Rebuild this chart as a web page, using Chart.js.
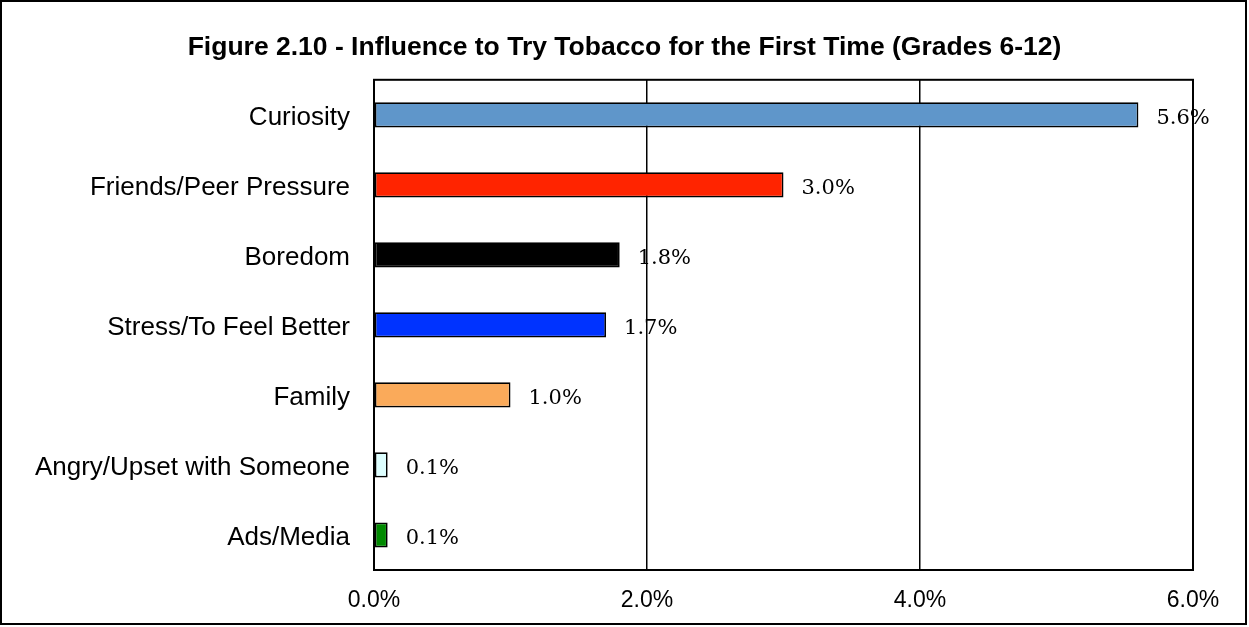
<!DOCTYPE html>
<html>
<head>
<meta charset="utf-8">
<script src="https://cdn.jsdelivr.net/npm/chart.js@4/dist/chart.umd.min.js"></script>
<style>
  html, body { margin: 0; padding: 0; background: #fff; }
  #wrap { width: 1249px; height: 627px; }
</style>
</head>
<body>
<div id="wrap"><canvas id="influence"></canvas></div>
<script>
// influences on first tobacco use, grades 6-12 (percent of students)
const categories = ["Curiosity", "Friends/Peer Pressure", "Boredom", "Stress/To Feel Better",
                    "Family", "Angry/Upset with Someone", "Ads/Media"];
const percents = [5.6, 3.0, 1.8, 1.7, 1.0, 0.1, 0.1];
const barColors = ["#5F96CA", "#FF2400", "#000000", "#0033FF", "#FAAA5A", "#DDFFFF", "#008A00"];
const xTicks = [0, 2, 4, 6];

// white page plus the black frame round the whole figure
const framePlugin = {
    id: "frame",
    afterLayout(chart) {
        // centre the title on the full page, not just the padded area
        if (chart.titleBlock) {
            chart.titleBlock.left = 0;
            chart.titleBlock.right = chart.width;
        }
    },
    beforeDraw(chart) {
        const ctx = chart.ctx;
        ctx.save();
        ctx.fillStyle = "#ffffff";
        ctx.fillRect(0, 0, chart.width, chart.height);
        ctx.restore();
    },
    afterDraw(chart) {
        const ctx = chart.ctx;
        ctx.save();
        ctx.strokeStyle = "#000000";
        ctx.lineWidth = 2;
        ctx.strokeRect(1, 1, chart.width - 4, chart.height - 4);
        // box round the plot area
        const a = chart.chartArea;
        ctx.strokeRect(a.left, a.top, a.right - a.left, a.bottom - a.top);
        ctx.restore();
    }
};

// value text just past the end of each bar
const valueLabels = {
    id: "valueLabels",
    afterDatasetsDraw(chart) {
        const ctx = chart.ctx;
        const meta = chart.getDatasetMeta(0);
        ctx.save();
        ctx.font = "21px 'DejaVu Serif', serif";
        ctx.fillStyle = "#000000";
        ctx.textAlign = "left";
        ctx.textBaseline = "middle";
        meta.data.forEach((bar, i) => {
            ctx.fillText(percents[i].toFixed(1) + "%", bar.x + 18, bar.y + 4);
        });
        ctx.restore();
    }
};

const config = {
    type: "bar",
    data: {
        labels: categories,
        datasets: [{
            data: percents,
            backgroundColor: barColors,
            borderColor: "#000000",
            borderWidth: 1.75,
            borderSkipped: false,
            categoryPercentage: 0.5,
            barPercentage: 0.72
        }]
    },
    options: {
        indexAxis: "y",
        responsive: true,
        maintainAspectRatio: false,
        animation: false,
        devicePixelRatio: 1,
        layout: { padding: { left: 0, right: 56, top: 0, bottom: 0 } },
        plugins: {
            legend: { display: false },
            tooltip: { enabled: false },
            title: {
                display: true,
                text: "Figure 2.10 - Influence to Try Tobacco for the First Time (Grades 6-12)",
                color: "#000000",
                font: { family: "'Liberation Sans', Arial, sans-serif", size: 26.5, weight: "bold", lineHeight: 1.2 },
                padding: { top: 32, bottom: 16 }
            }
        },
        scales: {
            x: {
                min: 0,
                max: 6,
                afterBuildTicks(scale) {
                    scale.ticks = xTicks.map(v => ({ value: v }));
                },
                afterFit(scale) { scale.height = 57; },
                grid: { color: "#000000", lineWidth: 1.5, drawTicks: false },
                border: { display: true, color: "#000000", width: 2 },
                ticks: {
                    padding: 17,
                    color: "#000000",
                    font: { family: "'Liberation Sans', Arial, sans-serif", size: 23 },
                    callback: v => v.toFixed(1) + "%"
                }
            },
            y: {
                afterFit(scale) { scale.width = 374; },
                grid: { display: false, drawTicks: false },
                border: { display: true, color: "#000000", width: 2 },
                ticks: {
                    padding: 24,
                    labelOffset: 3,
                    color: "#000000",
                    font: { family: "'Liberation Sans', Arial, sans-serif", size: 26 }
                }
            }
        }
    },
    plugins: [framePlugin, valueLabels]
};

new Chart(document.getElementById("influence").getContext("2d"), config);
</script>
</body>
</html>
